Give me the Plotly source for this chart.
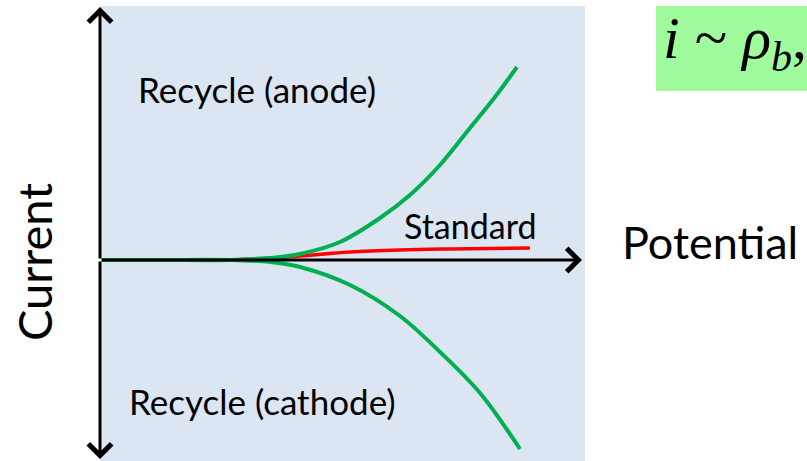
import plotly.graph_objects as go

# Data (arbitrary units: potential on x, current on y; origin at axis crossing)
anode_potential = [0.02, 0.6, 1.3, 1.7, 2.0, 2.4, 2.8, 3.1, 3.4, 3.7, 3.95, 4.17]
anode_current   = [0.0, 0.0, 0.0, 0.02, 0.06, 0.18, 0.42, 0.65, 0.95, 1.32, 1.63, 1.93]
cathode_potential = [0.02, 0.6, 1.3, 1.7, 2.0, 2.5, 3.0, 3.4, 3.8, 4.2]
cathode_current   = [0.0, 0.0, 0.0, -0.02, -0.07, -0.25, -0.56, -0.92, -1.33, -1.89]
standard_potential = [1.3, 1.7, 2.0, 2.5, 3.0, 3.5, 4.3]
standard_current   = [0.0, 0.02, 0.04, 0.08, 0.10, 0.11, 0.12]

W, H = 807, 461
FONT = "Lato"
SERIF = "Liberation Serif, Times New Roman, serif"
X0, X1 = -1.0, 7.07
Y0, Y1 = -2.01, 2.60

def px(xp):  # screen pixel x -> data x
    return X0 + (X1 - X0) * xp / W

def py(yp):  # screen pixel y -> data y
    return Y1 - (Y1 - Y0) * yp / H

fig = go.Figure()

# background panel
fig.add_shape(type="rect", xref="x", yref="y", x0=px(100), x1=px(585), y0=Y0 - 0.1, y1=py(6),
              fillcolor="#DCE6F2", line_width=0, layer="below")
# green formula box
fig.add_shape(type="rect", xref="paper", yref="paper", x0=656 / W, x1=1.01,
              y0=(H - 91) / H, y1=(H - 6) / H, fillcolor="#9FFB9C", line_width=0, layer="below")

fig.add_trace(go.Scatter(x=standard_potential, y=standard_current, mode="lines",
                         line=dict(color="#FF0000", width=3.5, shape="spline"), hoverinfo="skip"))
fig.add_trace(go.Scatter(x=anode_potential, y=anode_current, mode="lines",
                         line=dict(color="#00B050", width=4, shape="spline"), hoverinfo="skip"))
fig.add_trace(go.Scatter(x=cathode_potential, y=cathode_current, mode="lines",
                         line=dict(color="#00B050", width=4, shape="spline"), hoverinfo="skip"))

arrow_common = dict(xref="x", yref="y", axref="x", ayref="y", text="", showarrow=True,
                    arrowhead=4, arrowsize=1.5, arrowwidth=3, arrowcolor="black")
# vertical double arrow (current axis)
fig.add_annotation(x=0, y=py(7), ax=0, ay=0, **arrow_common)
fig.add_annotation(x=0, y=py(459), ax=0, ay=0, **arrow_common)
# horizontal arrow (potential axis)
fig.add_annotation(x=px(582), y=0, ax=0, ay=0, **arrow_common)

def label(text, xp, yp, size, **kw):
    fig.add_annotation(x=px(xp), y=py(yp), xref="x", yref="y", text=text, showarrow=False,
                       font=dict(family=FONT, size=size, color="black"), **kw)

label("Recycle (anode)", 257, 89, 35)
label("Recycle (cathode)", 262, 401, 35)
label("Standard", 470, 225, 34)
label("Potential", 620, 242, 45, xanchor="left")
label("Current", 34, 262, 47, textangle=-90)

fig.add_annotation(x=661 / W, y=(H - 42) / H, xref="paper", yref="paper",
                   text="<i>i</i> ~ <i>ρ</i><sub><i>b</i></sub>,", showarrow=False,
                   xanchor="left", yanchor="middle",
                   font=dict(family=SERIF, size=60, color="black"))

fig.update_layout(width=W, height=H, margin=dict(l=0, r=0, t=0, b=0),
                  paper_bgcolor="white", plot_bgcolor="white", showlegend=False,
                  hovermode=False)
fig.update_xaxes(range=[X0, X1], visible=False, fixedrange=True)
fig.update_yaxes(range=[Y0, Y1], visible=False, fixedrange=True)

fig.write_html("out.html", config={"displayModeBar": False, "staticPlot": True},
               post_script="document.body.style.margin='0';")
